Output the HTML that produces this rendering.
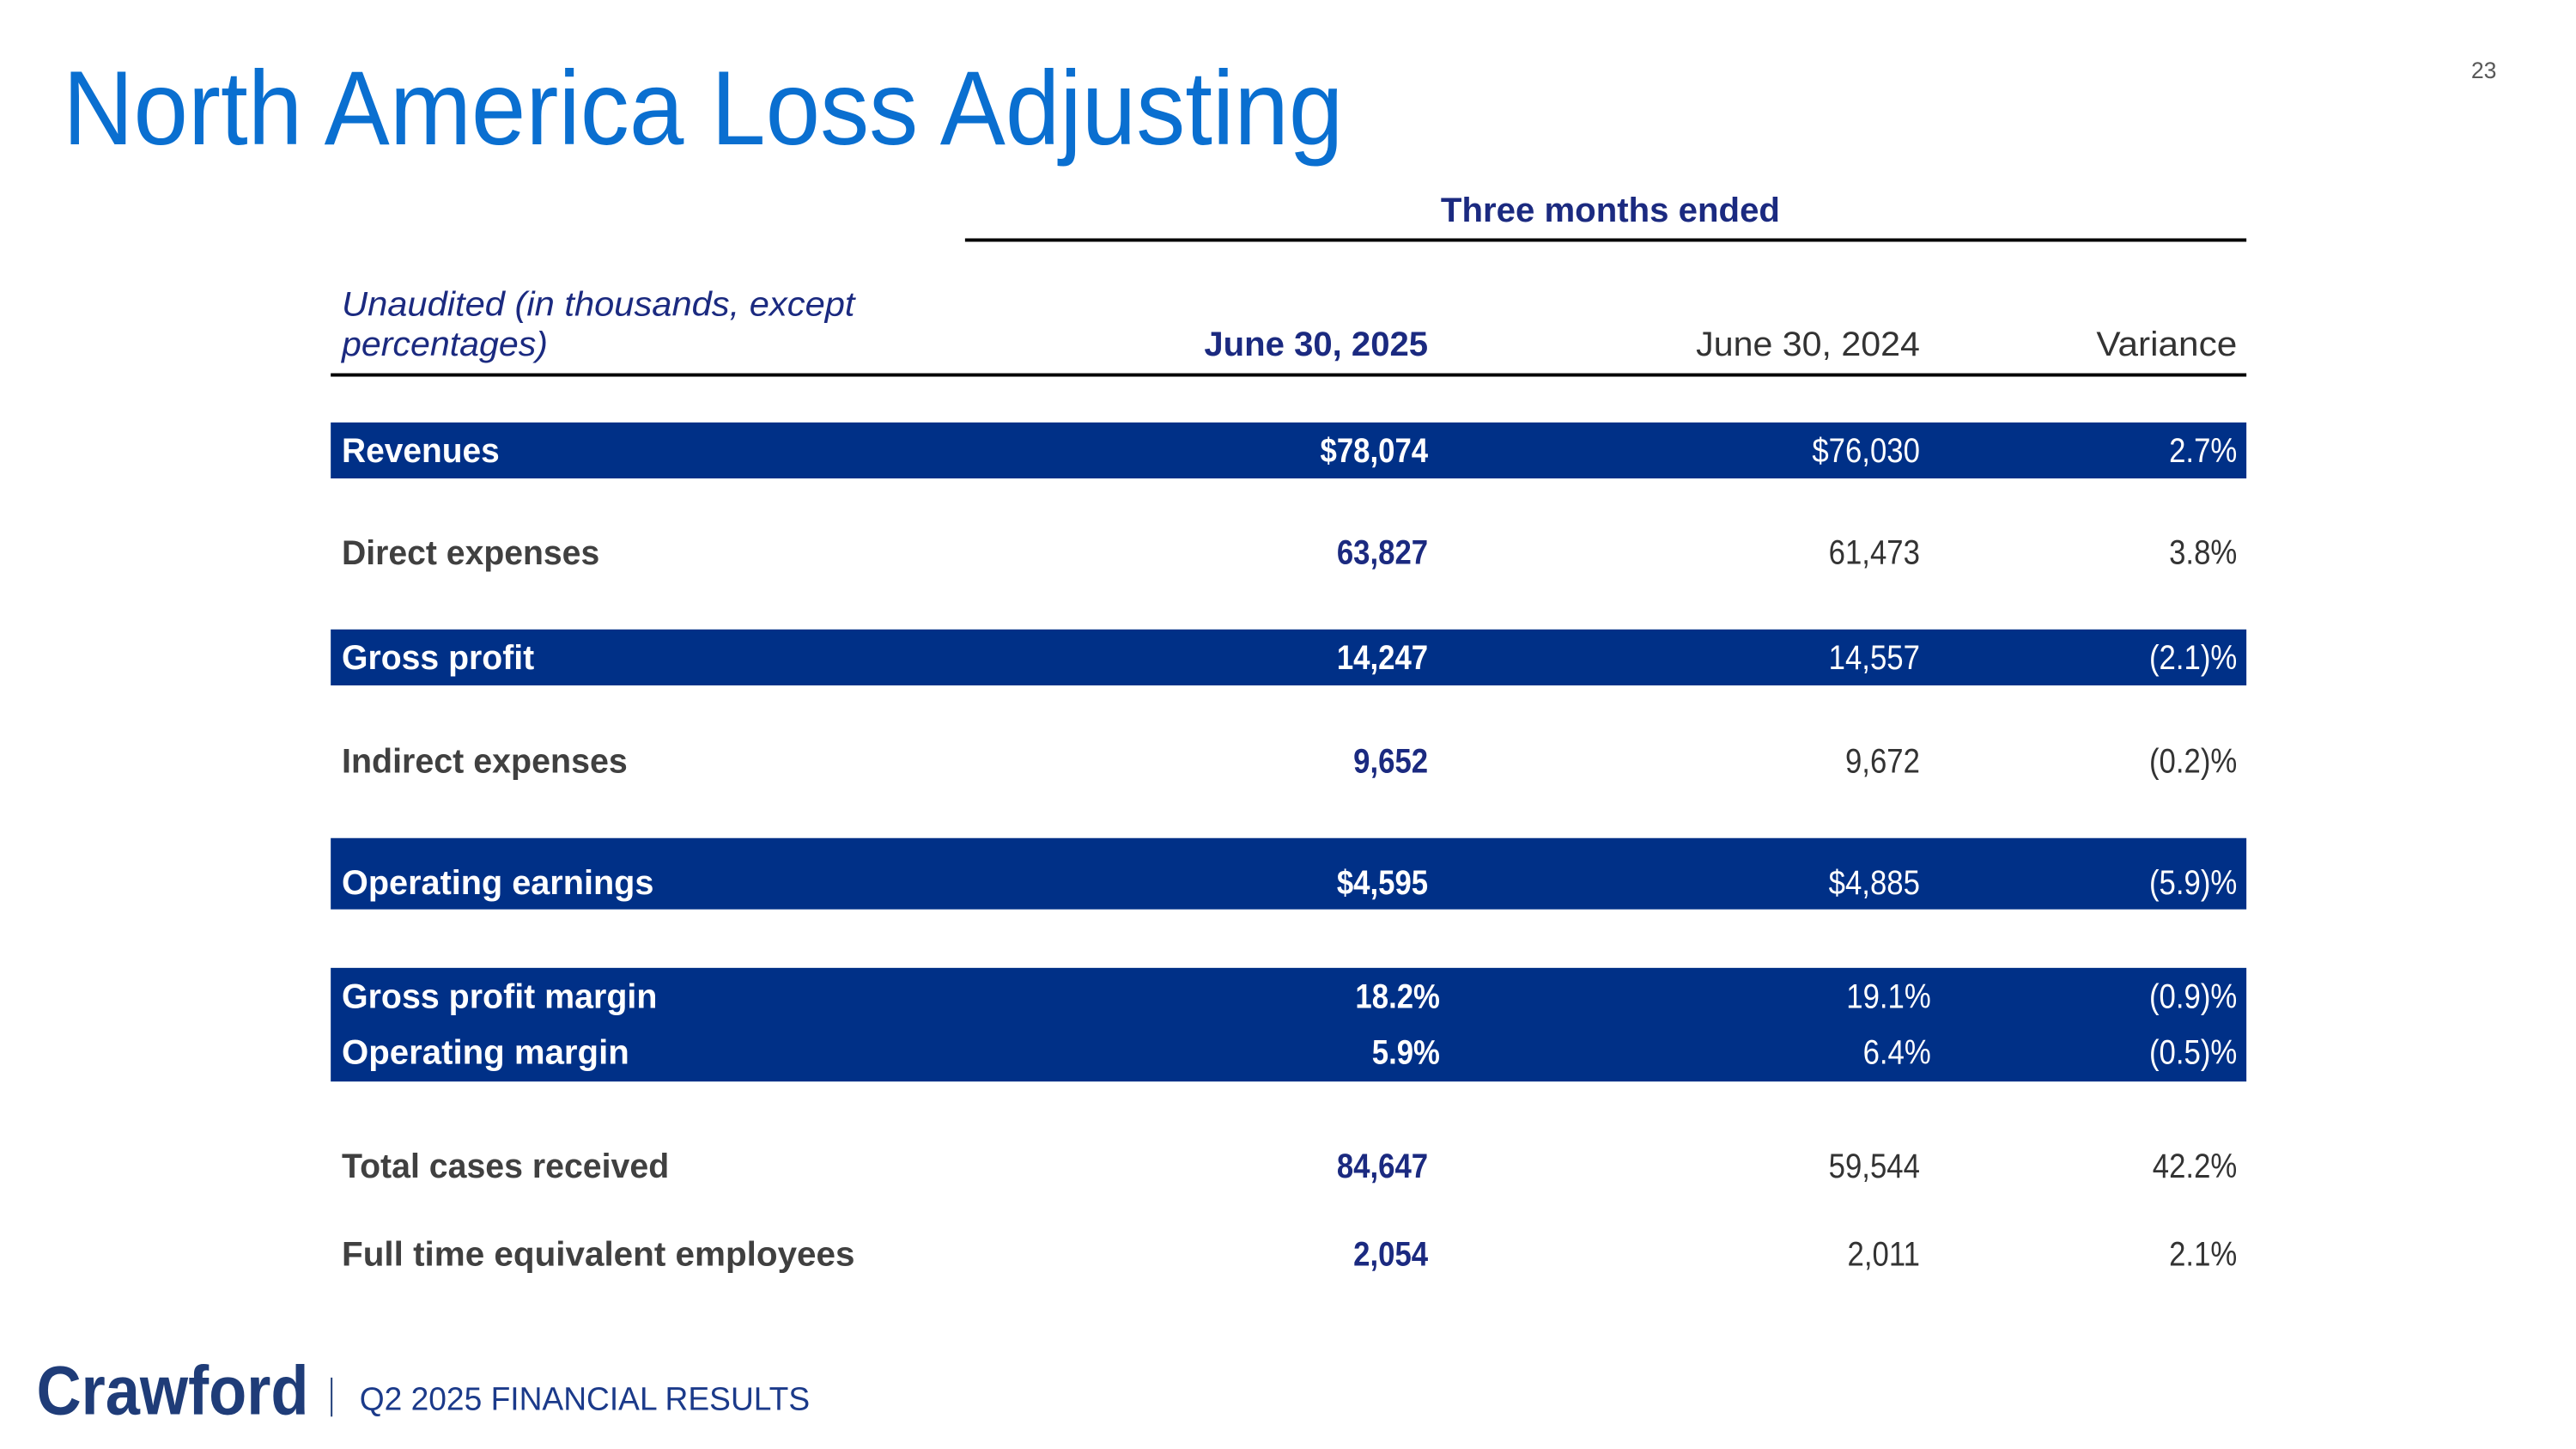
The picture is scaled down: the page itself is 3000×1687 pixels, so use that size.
<!DOCTYPE html>
<html><head><meta charset="utf-8"><style>
html,body{margin:0;padding:0;background:#fff}
svg{display:block}
text{font-family:"Liberation Sans",sans-serif}
</style></head><body>
<svg id="s" width="3000" height="1687" viewBox="0 0 3000 1687" xmlns="http://www.w3.org/2000/svg">
<g transform="scale(0.9876)">
<text x="2944" y="92" font-size="27" fill="#595959" text-anchor="end">23</text>
<text x="74" y="170" font-size="124" fill="#0a6fd0" textLength="1510" lengthAdjust="spacingAndGlyphs">North America Loss Adjusting</text>
<text x="1899" y="261" font-size="40" font-weight="bold" fill="#1b2a80" text-anchor="middle" textLength="400" lengthAdjust="spacingAndGlyphs">Three months ended</text>
<rect x="1138" y="281" width="1511" height="4" fill="#000"/>
<text x="403" y="372" font-size="40" font-style="italic" fill="#1b2a80" textLength="605" lengthAdjust="spacingAndGlyphs">Unaudited (in thousands, except</text>
<text x="403" y="419" font-size="40" font-style="italic" fill="#1b2a80" textLength="243" lengthAdjust="spacingAndGlyphs">percentages)</text>
<text x="1684" y="419" font-size="40" font-weight="bold" fill="#1b2a80" text-anchor="end" textLength="264" lengthAdjust="spacingAndGlyphs">June 30, 2025</text>
<text x="2264" y="419" font-size="40" fill="#333" text-anchor="end" textLength="264" lengthAdjust="spacingAndGlyphs">June 30, 2024</text>
<text x="2638" y="419" font-size="40" fill="#333" text-anchor="end" textLength="166" lengthAdjust="spacingAndGlyphs">Variance</text>
<rect x="390" y="440" width="2259" height="4" fill="#000"/>
<g id="bands"></g>
<g id="rows"></g>
<text x="43" y="1667" font-size="82" font-weight="bold" fill="#1f3c78" textLength="321" lengthAdjust="spacingAndGlyphs">Crawford</text>
<rect x="390" y="1624" width="2" height="46" fill="#1f3c78"/>
<text x="424" y="1662" font-size="38" fill="#1b3a8a" textLength="531" lengthAdjust="spacingAndGlyphs">Q2 2025 FINANCIAL RESULTS</text>
</g>
</svg>
<script>
const labels = ["Revenues","Direct expenses","Gross profit","Indirect expenses","Operating earnings","Gross profit margin","Operating margin","Total cases received","Full time equivalent employees"];
const values2025 = ["$78,074","63,827","14,247","9,652","$4,595","18.2%","5.9%","84,647","2,054"];
const values2024 = ["$76,030","61,473","14,557","9,672","$4,885","19.1%","6.4%","59,544","2,011"];
const variances = ["2.7%","3.8%","(2.1)%","(0.2)%","(5.9)%","(0.9)%","(0.5)%","42.2%","2.1%"];
const highlighted = [true,false,true,false,true,true,true,false,false];

const baselines = [545,665,789,911,1054,1188,1254,1388,1492];
const bandRects = [[498,66],[742,66],[988,84],[1141,134]];
const labelW = [186,304,227,337,368,372,339,386,605];
const NS = "http://www.w3.org/2000/svg";
const bands = document.getElementById('bands');
const rows = document.getElementById('rows');
bandRects.forEach(function(b){
  const r = document.createElementNS(NS,'rect');
  r.setAttribute('x',390);r.setAttribute('y',b[0]);r.setAttribute('width',2259);r.setAttribute('height',b[1]);r.setAttribute('fill','#003087');
  
  
  bands.appendChild(r);
});
function txt(x,y,s,anchor,fill,bold,w){
  const t = document.createElementNS(NS,'text');
  t.setAttribute('x',x);t.setAttribute('y',y);t.setAttribute('font-size',40);
  t.setAttribute('fill',fill);t.setAttribute('text-anchor',anchor);
  if(bold) t.setAttribute('font-weight','bold');
  if(w){t.setAttribute('textLength',w);t.setAttribute('lengthAdjust','spacingAndGlyphs');}
  else {t.setAttribute('transform','translate('+x+' 0) scale(0.88 1) translate('+(-x)+' 0)');}
  t.textContent = s;
  rows.appendChild(t);
  return t;
}
labels.forEach(function(l,i){
  const y = baselines[i], h = highlighted[i];
  const pct = values2025[i].indexOf('%')>=0 && i>=5 && i<=6;
  const a = txt(403,y,l,'start',h?'#fff':'#404040',true,labelW[i]);
  
  
  const b = txt(pct?1698:1684,y,values2025[i],'end',h?'#fff':'#1b2a80',true);
  
  
  const c = txt(pct?2277:2264,y,values2024[i],'end',h?'#fff':'#333',false);
  
  
  const d = txt(2638,y,variances[i],'end',h?'#fff':'#333',false);
  
  
});
</script>
</body></html>
